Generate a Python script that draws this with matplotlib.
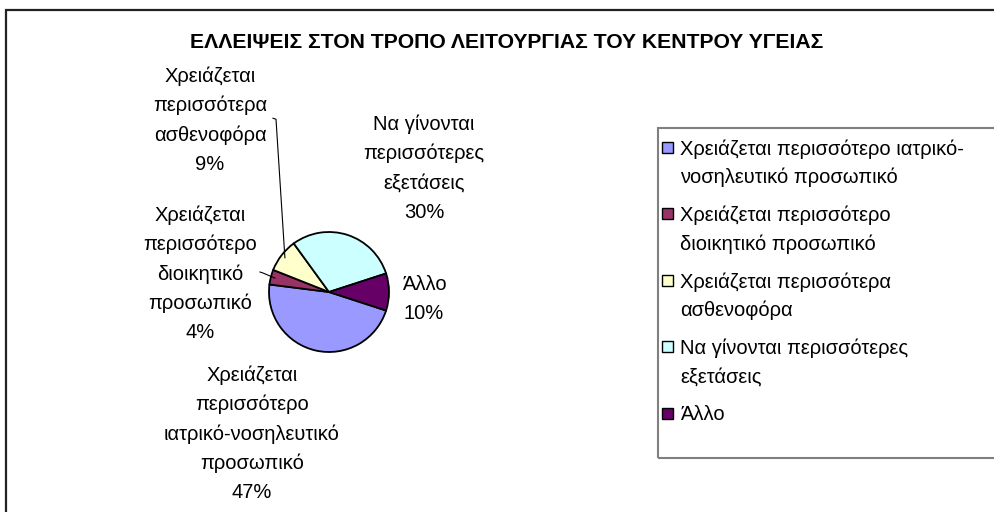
import matplotlib
matplotlib.use("Agg")
import matplotlib.pyplot as plt
from matplotlib.patches import Rectangle
import numpy as np

# ---------------------------------------------------
# DATA
# ---------------------------------------------------

title = "ΕΛΛΕΙΨΕΙΣ ΣΤΟΝ ΤΡΟΠΟ ΛΕΙΤΟΥΡΓΙΑΣ ΤΟΥ ΚΕΝΤΡΟΥ ΥΓΕΙΑΣ"

legend_labels = [
    "Χρειάζεται περισσότερο ιατρικό-\nνοσηλευτικό προσωπικό",
    "Χρειάζεται περισσότερο\nδιοικητικό προσωπικό",
    "Χρειάζεται περισσότερα\nασθενοφόρα",
    "Να γίνονται περισσότερες\nεξετάσεις",
    "Άλλο",
]
pie_labels = [
    "Χρειάζεται\nπερισσότερο\nιατρικό-νοσηλευτικό\nπροσωπικό",
    "Χρειάζεται\nπερισσότερο\nδιοικητικό\nπροσωπικό",
    "Χρειάζεται\nπερισσότερα\nασθενοφόρα",
    "Να γίνονται\nπερισσότερες\nεξετάσεις",
    "Άλλο",
]
values = [47, 4, 9, 30, 10]

colors = ["#9999FF", "#993366", "#FFFFCC", "#CCFFFF", "#660066"]

# ---------------------------------------------------
# LAYOUT (pixels, origin top-left)
# ---------------------------------------------------

W, H = 994, 512
FONT = "Liberation Sans"
FS = 14.5

def fx(x):
    return x / W

def fy(y):
    return 1 - y / H

# label centres (x, first line y) and line step
label_pos = [(252, 373), (200, 213), (210, 74), (424, 122), (424, 282)]
line_step = 29.5
leader = [False, True, True, False, False]

pie_cx, pie_cy, pie_r = 329, 292, 60

fig = plt.figure(figsize=(W / 100, H / 100), dpi=100)
fig.patch.set_facecolor("white")

# chart border
fig.add_artist(Rectangle((fx(6), fy(530)), fx(1010 - 6), 520 / H,
                         transform=fig.transFigure, fill=False,
                         edgecolor="#222222", linewidth=1.6))

fig.text(fx(507), fy(40), title, ha="center", va="center_baseline",
         fontsize=15.2, fontweight="bold", family=FONT)

# ---------------------------------------------------
# PIE
# ---------------------------------------------------

ax = fig.add_axes([fx(pie_cx - pie_r), fy(pie_cy + pie_r),
                   2 * pie_r / W, 2 * pie_r / H])
wedges, _ = ax.pie(values, colors=colors, startangle=-18, counterclock=False,
                   wedgeprops=dict(edgecolor="black", linewidth=1.3))
ax.set_xlim(-1, 1)
ax.set_ylim(-1, 1)
ax.set_aspect("equal")
ax.axis("off")

for i, (lab, val) in enumerate(zip(pie_labels, values)):
    lines = lab.split("\n") + [f"{val}%"]
    x, y0 = label_pos[i]
    for k, line in enumerate(lines):
        fig.text(fx(x), fy(y0 + k * line_step), line, ha="center",
                 va="center_baseline", fontsize=FS, family=FONT)
    if leader[i]:
        w = wedges[i]
        mid = np.deg2rad((w.theta1 + w.theta2) / 2)
        px = pie_cx + pie_r * 0.93 * np.cos(mid)
        py = pie_cy - pie_r * 0.93 * np.sin(mid)
        ymid = y0 + (len(lines) - 1) * line_step / 2
        xr = x + (66 if i == 2 else 63)
        fig.add_artist(plt.Line2D([fx(xr - 3), fx(xr), fx(px)],
                                  [fy(ymid), fy(ymid + 1), fy(py)],
                                  transform=fig.transFigure,
                                  color="black", linewidth=0.8))

# ---------------------------------------------------
# LEGEND
# ---------------------------------------------------

fig.add_artist(Rectangle((fx(658), fy(458)), fx(1010 - 658), 330 / H,
                         transform=fig.transFigure, fill=False,
                         edgecolor="#808080", linewidth=1.5))

ly = 147
for lab, col in zip(legend_labels, colors):
    fig.add_artist(Rectangle((fx(662), fy(ly + 5.5)), 11 / W, 11 / H,
                             transform=fig.transFigure, facecolor=col,
                             edgecolor="black", linewidth=1.0))
    lines = lab.split("\n")
    for k, line in enumerate(lines):
        fig.text(fx(680), fy(ly + k * 28.5), line, ha="left",
                 va="center_baseline", fontsize=FS, family=FONT)
    ly += (len(lines) - 1) * 28.5 + 38

fig.savefig("out.png", dpi=100, facecolor="white")
